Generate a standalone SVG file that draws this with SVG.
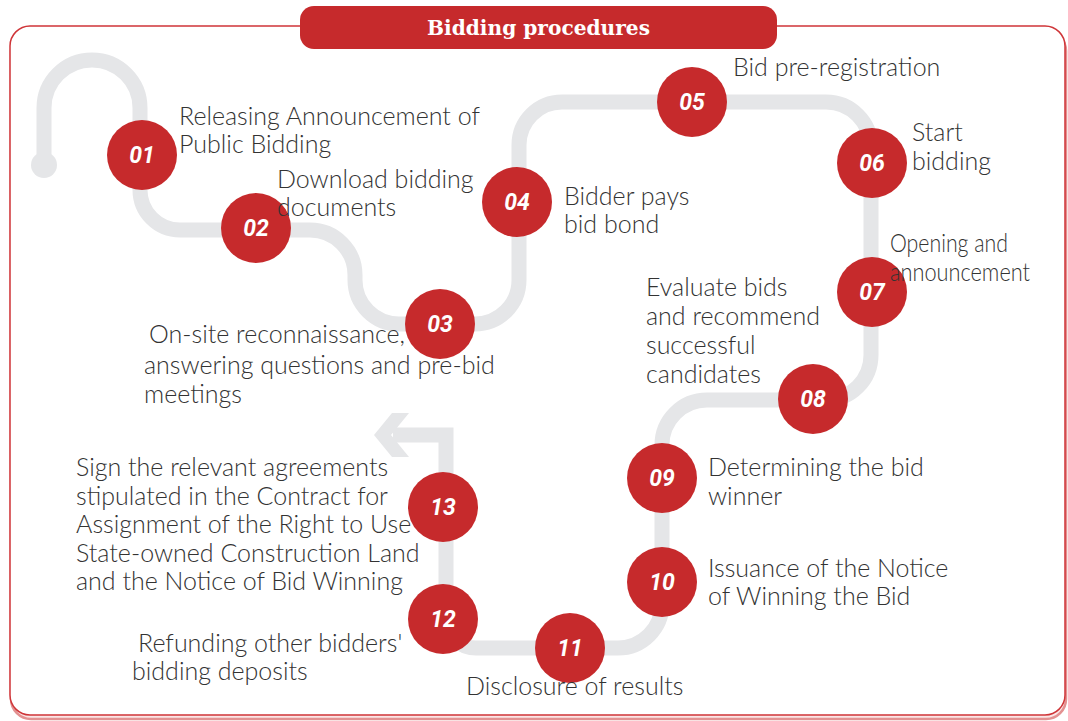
<svg xmlns="http://www.w3.org/2000/svg" width="1068" height="721" viewBox="0 0 1068 721">
<style>
.lbl{font-family:"Source Sans Pro","Lato","Noto Sans",sans-serif;font-weight:300;font-size:25px;fill:#333}
.num{font-family:"Roboto","DejaVu Sans",sans-serif;font-weight:700;font-style:italic;font-size:23px;fill:#fff;text-anchor:middle}
.dot{fill:#c62a2c}
.track{fill:none;stroke:#e5e6e8;stroke-width:15;stroke-linejoin:miter}
</style>
<rect width="1068" height="721" fill="#fff"/>
<rect x="11" y="31" width="1055" height="688" rx="20" fill="#fbe6e6" stroke="#e39191" stroke-width="2.5"/>
<rect x="10" y="26" width="1055" height="689" rx="20" fill="#fff" stroke="#cf3538" stroke-width="1.5"/>
<g id="title">
<rect x="300" y="6" width="477" height="43" rx="14" fill="#c62a2c"/>
<text x="427" y="35" font-family="DejaVu Serif, serif" font-weight="700" font-size="21" fill="#fff" textLength="223" lengthAdjust="spacingAndGlyphs">Bidding procedures</text>
</g>
<g id="connectors">
<circle cx="44" cy="165" r="13" fill="#e5e6e8"/>
<path class="track" d="M 44 165 V 108 A 48 48 0 0 1 140 108 V 190 A 40 40 0 0 0 180 230 H 310 A 45 45 0 0 1 355 275 V 280 A 44 44 0 0 0 399 324 H 475 A 44 44 0 0 0 519 280 V 145 A 43 43 0 0 1 562 102 H 826 A 45 45 0 0 1 871 147 V 355 A 45 45 0 0 1 826 400 H 707 A 45 45 0 0 0 662 445 V 604 A 44 44 0 0 1 618 648 H 476 A 30 30 0 0 1 446 618 V 435 H 393"/>
<polygon points="392,413 409,413 391,435 409,457 392,457 374,435" fill="#e5e6e8"/>
</g>
<g id="n01"><circle class="dot" cx="142" cy="155" r="35"/><text class="num" x="142" y="163">01</text>
<text class="lbl" x="179" y="125">Releasing Announcement of</text><text class="lbl" x="179" y="153">Public Bidding</text></g>
<g id="n02"><circle class="dot" cx="256" cy="228" r="35"/><text class="num" x="256" y="236">02</text>
<text class="lbl" x="277" y="188">Download bidding</text><text class="lbl" x="277" y="216">documents</text></g>
<g id="n03"><circle class="dot" cx="440" cy="324" r="35"/><text class="num" x="440" y="332">03</text>
<text class="lbl" x="149" y="343">On-site reconnaissance,</text><text class="lbl" x="144" y="374">answering questions and pre-bid</text><text class="lbl" x="144" y="403">meetings</text></g>
<g id="n04"><circle class="dot" cx="517" cy="202" r="35"/><text class="num" x="517" y="210">04</text>
<text class="lbl" x="564" y="205">Bidder pays</text><text class="lbl" x="564" y="233">bid bond</text></g>
<g id="n05"><circle class="dot" cx="692" cy="102" r="35"/><text class="num" x="692" y="110">05</text>
<text class="lbl" x="733" y="76">Bid pre-registration</text></g>
<g id="n06"><circle class="dot" cx="872" cy="163" r="35"/><text class="num" x="872" y="171">06</text>
<text class="lbl" x="912" y="141">Start</text><text class="lbl" x="912" y="170">bidding</text></g>
<g id="n07"><circle class="dot" cx="872" cy="292" r="35"/><text class="num" x="872" y="300">07</text>
<text class="lbl" x="890" y="252" textLength="118" lengthAdjust="spacingAndGlyphs">Opening and</text><text class="lbl" x="890" y="281" textLength="140" lengthAdjust="spacingAndGlyphs">announcement</text></g>
<g id="n08"><circle class="dot" cx="813" cy="399" r="35"/><text class="num" x="813" y="407">08</text>
<text class="lbl" x="646" y="296">Evaluate bids</text><text class="lbl" x="646" y="325">and recommend</text><text class="lbl" x="646" y="354">successful</text><text class="lbl" x="646" y="383">candidates</text></g>
<g id="n09"><circle class="dot" cx="662" cy="478" r="35"/><text class="num" x="662" y="486">09</text>
<text class="lbl" x="708" y="476">Determining the bid</text><text class="lbl" x="708" y="505">winner</text></g>
<g id="n10"><circle class="dot" cx="662" cy="582" r="35"/><text class="num" x="662" y="590">10</text>
<text class="lbl" x="708" y="577">Issuance of the Notice</text><text class="lbl" x="708" y="605">of Winning the Bid</text></g>
<g id="n11"><circle class="dot" cx="570" cy="648" r="35"/><text class="num" x="570" y="656">11</text>
<text class="lbl" x="466" y="695">Disclosure of results</text></g>
<g id="n12"><circle class="dot" cx="443" cy="619" r="35"/><text class="num" x="443" y="627">12</text>
<text class="lbl" x="138" y="652">Refunding other bidders'</text><text class="lbl" x="132" y="680">bidding deposits</text></g>
<g id="n13"><circle class="dot" cx="443" cy="507" r="35"/><text class="num" x="443" y="515">13</text>
<text class="lbl" x="76" y="476">Sign the relevant agreements</text><text class="lbl" x="76" y="505">stipulated in the Contract for</text><text class="lbl" x="76" y="533">Assignment of the Right to Use</text><text class="lbl" x="76" y="562">State-owned Construction Land</text><text class="lbl" x="76" y="590">and the Notice of Bid Winning</text></g>
</svg>
